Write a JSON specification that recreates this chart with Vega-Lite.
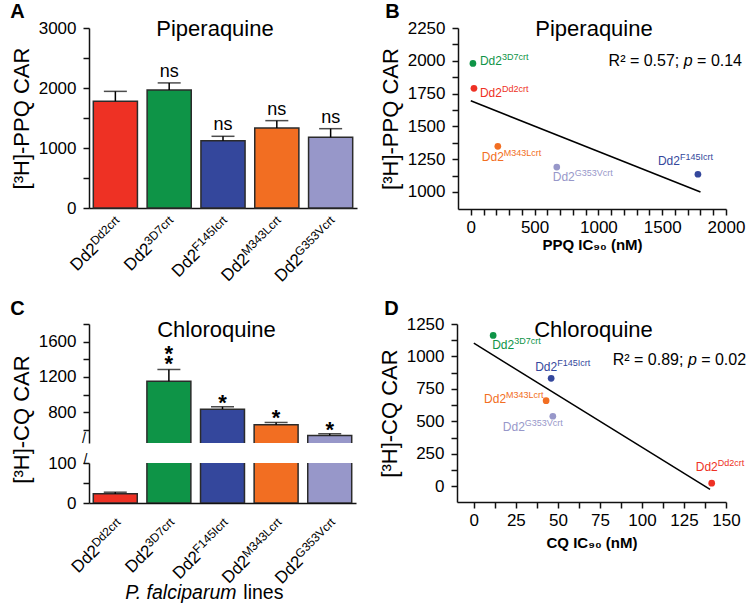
{
  "$schema": "https://vega.github.io/schema/vega-lite/v6.json",
  "padding": {"left": 10, "top": 2, "right": 0, "bottom": 0},
  "background": "white",
  "config": {
    "font": "Liberation Sans",
    "view": {"stroke": null},
    "axis": {"domainColor": "#111", "domainWidth": 1.5, "tickColor": "#111", "tickWidth": 1.5, "tickSize": 6, "labelFont": "Liberation Sans", "labelFontSize": 17, "labelColor": "#000", "labelPadding": 7, "titleFont": "Liberation Sans", "titleFontSize": 22, "titleFontWeight": "normal", "titleColor": "#000", "titlePadding": 5, "grid": false, "labelFlush": false, "labelOverlap": false},
    "title": {"font": "Liberation Sans", "fontSize": 20, "fontWeight": "bold", "anchor": "start", "frame": "bounds", "color": "#000", "offset": -4},
    "text": {"font": "Liberation Sans", "color": "#000"}
  },
  "datasets": {
    "ppqBars": [
      {"line": "Dd2crt", "car": 1778, "err": 1944, "sig": ""},
      {"line": "3D7crt", "car": 1965, "err": 2085, "sig": "ns"},
      {"line": "F145Icrt", "car": 1122, "err": 1195, "sig": "ns"},
      {"line": "M343Lcrt", "car": 1335, "err": 1456, "sig": "ns"},
      {"line": "G353Vcrt", "car": 1178, "err": 1322, "sig": "ns"}
    ],
    "cqBars": [
      {"line": "Dd2crt", "car": 23, "err": 27, "sig": ""},
      {"line": "3D7crt", "car": 1151, "err": 1284, "sig": "*\n*"},
      {"line": "F145Icrt", "car": 834, "err": 861, "sig": "*"},
      {"line": "M343Lcrt", "car": 657, "err": 683, "sig": "*"},
      {"line": "G353Vcrt", "car": 536, "err": 555, "sig": "*"}
    ],
    "ppqScatter": [
      {"line": "Dd2crt", "ic90": 25, "car": 1790},
      {"line": "3D7crt", "ic90": 17, "car": 1980},
      {"line": "F145Icrt", "ic90": 1780, "car": 1135},
      {"line": "M343Lcrt", "ic90": 212, "car": 1348},
      {"line": "G353Vcrt", "ic90": 674, "car": 1190}
    ],
    "cqScatter": [
      {"line": "Dd2crt", "ic90": 141.5, "car": 25},
      {"line": "3D7crt", "ic90": 11.5, "car": 1162},
      {"line": "F145Icrt", "ic90": 46, "car": 832},
      {"line": "M343Lcrt", "ic90": 43, "car": 660},
      {"line": "G353Vcrt", "ic90": 47, "car": 540}
    ],
    "ppqFit": [{"ic90": 0, "car": 1695}, {"ic90": 1800, "car": 1000}],
    "cqFit": [{"ic90": 0, "car": 1103}, {"ic90": 140.5, "car": -23}]
  },
  "spacing": 14,
  "vconcat": [
    {
      "spacing": 22,
      "hconcat": [
        {
          "title": {"text": "A"},
          "vconcat": [
            {
              "width": 268, "height": 180,
              "data": {"name": "ppqBars"},
              "layer": [
                {"mark": {"type": "bar", "stroke": "#2b2b2b", "strokeWidth": 1.5},
                 "encoding": {
                   "x": {"field": "line", "type": "nominal", "sort": null, "scale": {"paddingInner": 0.18, "paddingOuter": 0.08}, "axis": {"title": null, "labels": false, "ticks": false}},
                   "y": {"field": "car", "type": "quantitative", "scale": {"domain": [0, 3000], "nice": false}, "axis": {"title": "[³H]-PPQ CAR", "tickCount": 1000, "labelOverlap": false, "values": [0, 500, 1000, 1500, 2000, 2500, 3000], "labelExpr": "datum.value % 1000 == 0 ? datum.label : ''", "format": "d"}},
                   "color": {"field": "line", "type": "nominal", "scale": {"domain": ["Dd2crt", "3D7crt", "F145Icrt", "M343Lcrt", "G353Vcrt"], "range": ["#EE3124", "#0E9447", "#34479C", "#F26E22", "#9797C9"]}, "legend": null}
                 }},
                {"mark": {"type": "rule", "color": "#000", "strokeWidth": 1.5},
                 "encoding": {"x": {"field": "line", "type": "nominal", "sort": null}, "y": {"field": "car", "type": "quantitative"}, "y2": {"field": "err"}}},
                {"mark": {"type": "tick", "color": "#000", "size": 23, "thickness": 1.5},
                 "encoding": {"x": {"field": "line", "type": "nominal", "sort": null}, "y": {"field": "err", "type": "quantitative"}}},
                {"mark": {"type": "text", "fontSize": 18, "baseline": "alphabetic", "dy": -6},
                 "encoding": {"x": {"field": "line", "type": "nominal", "sort": null}, "y": {"field": "err", "type": "quantitative"}, "text": {"field": "sig"}}},
                {"mark": {"type": "text", "text": "Dd2", "fontSize": 17, "angle": 315, "align": "right", "baseline": "middle", "dx": {"expr": "-5.7 - (datum.line=='Dd2crt'?35.3:datum.line=='3D7crt'?35.3:datum.line=='F145Icrt'?44:datum.line=='M343Lcrt'?50:50.7)"}, "dy": 13},
                 "encoding": {"x": {"field": "line", "type": "nominal", "sort": null}, "y": {"datum": 0}}},
                {"mark": {"type": "text", "fontSize": 12, "angle": 315, "align": "right", "baseline": "middle", "dx": -5.7, "dy": 8.5},
                 "encoding": {"x": {"field": "line", "type": "nominal", "sort": null}, "y": {"datum": 0}, "text": {"field": "line"}}},
                {"data": {"values": [{"t": "Piperaquine"}]},
                 "mark": {"type": "text", "fontSize": 22, "baseline": "alphabetic", "dx": -8, "dy": 8},
                 "encoding": {"y": {"datum": 3000}, "text": {"field": "t"}}}
              ]
            }
          ]
        },
        {
          "title": {"text": "B", "dx": 6},
          "vconcat": [
            {
              "width": 268, "height": 181,
              "layer": [
                {"data": {"name": "ppqFit"},
                 "mark": {"type": "line", "color": "#000", "strokeWidth": 1.5},
                 "encoding": {
                   "x": {"field": "ic90", "type": "quantitative", "scale": {"domain": [-100, 2000], "nice": false, "zero": false}, "axis": {"title": "PPQ IC₉₀ (nM)", "tickCount": 1000, "labelOverlap": false, "titleFontSize": 15, "titleFontWeight": "bold", "titlePadding": 2, "labelPadding": 4, "values": [0, 100, 200, 300, 400, 500, 600, 700, 800, 900, 1000, 1100, 1200, 1300, 1400, 1500, 1600, 1700, 1800, 1900, 2000], "labelExpr": "datum.value % 500 == 0 ? datum.label : ''", "format": "d"}},
                   "y": {"field": "car", "type": "quantitative", "scale": {"domain": [870, 2250], "nice": false, "zero": false}, "axis": {"title": "[³H]-PPQ CAR", "tickCount": 1000, "labelOverlap": false, "values": [1000, 1125, 1250, 1375, 1500, 1625, 1750, 1875, 2000, 2125, 2250], "labelExpr": "datum.value % 250 == 0 ? datum.label : ''", "format": "d"}}
                 }},
                {"data": {"name": "ppqScatter"},
                 "layer": [
                   {"mark": {"type": "circle", "size": 45, "opacity": 1},
                    "encoding": {
                      "x": {"field": "ic90", "type": "quantitative"},
                      "y": {"field": "car", "type": "quantitative"},
                      "color": {"field": "line", "type": "nominal", "scale": {"domain": ["Dd2crt", "3D7crt", "F145Icrt", "M343Lcrt", "G353Vcrt"], "range": ["#EE3124", "#0E9447", "#34479C", "#F26E22", "#9797C9"]}, "legend": null}
                    }},
                   {"mark": {"type": "text", "text": "Dd2", "fontSize": 12, "align": "left", "baseline": "alphabetic",
                             "dx": {"expr": "datum.line=='3D7crt'?7:datum.line=='Dd2crt'?6:datum.line=='M343Lcrt'?-16:datum.line=='G353Vcrt'?-4:-40"},
                             "dy": {"expr": "datum.line=='3D7crt'?2:datum.line=='Dd2crt'?9:datum.line=='M343Lcrt'?15:datum.line=='G353Vcrt'?14:-9"}},
                    "encoding": {
                      "x": {"field": "ic90", "type": "quantitative"},
                      "y": {"field": "car", "type": "quantitative"},
                      "color": {"field": "line", "type": "nominal", "legend": null}
                    }},
                   {"mark": {"type": "text", "fontSize": 9, "align": "left", "baseline": "alphabetic",
                             "dx": {"expr": "22+(datum.line=='3D7crt'?7:datum.line=='Dd2crt'?6:datum.line=='M343Lcrt'?-16:datum.line=='G353Vcrt'?-4:-40)"},
                             "dy": {"expr": "(datum.line=='3D7crt'?2:datum.line=='Dd2crt'?9:datum.line=='M343Lcrt'?15:datum.line=='G353Vcrt'?14:-9)-5"}},
                    "encoding": {
                      "x": {"field": "ic90", "type": "quantitative"},
                      "y": {"field": "car", "type": "quantitative"},
                      "text": {"field": "line"},
                      "color": {"field": "line", "type": "nominal", "legend": null}
                    }}
                 ]},
                {"data": {"values": [{"a": "R² = 0.57;", "b": "p", "c": "= 0.14"}]},
                 "layer": [
                   {"mark": {"type": "text", "fontSize": 16, "align": "left", "baseline": "middle"},
                    "encoding": {"x": {"datum": 1080}, "y": {"datum": 2000}, "text": {"field": "a"}}},
                   {"mark": {"type": "text", "fontSize": 16, "fontStyle": "italic", "align": "left", "baseline": "middle", "dx": 75.2},
                    "encoding": {"x": {"datum": 1080}, "y": {"datum": 2000}, "text": {"field": "b"}}},
                   {"mark": {"type": "text", "fontSize": 16, "align": "left", "baseline": "middle", "dx": 88.5},
                    "encoding": {"x": {"datum": 1080}, "y": {"datum": 2000}, "text": {"field": "c"}}}
                 ]},
                {"data": {"values": [{"t": "Piperaquine"}]},
                 "mark": {"type": "text", "fontSize": 22, "baseline": "alphabetic", "dx": 2, "dy": 8},
                 "encoding": {"y": {"datum": 2250}, "text": {"field": "t"}}}
              ]
            }
          ]
        }
      ]
    },
    {
      "spacing": 22,
      "hconcat": [
        {
          "title": {"text": "C"},
          "bounds": "flush",
          "spacing": 20,
          "vconcat": [
            {
              "width": 267, "height": 119,
              "data": {"name": "cqBars"},
              "layer": [
                {"mark": {"type": "bar", "stroke": "#2b2b2b", "strokeWidth": 1.5, "clip": true},
                 "encoding": {
                   "x": {"field": "line", "type": "nominal", "sort": null, "scale": {"paddingInner": 0.18, "paddingOuter": 0.08}, "axis": null},
                   "y": {"field": "car", "type": "quantitative", "scale": {"domain": [450, 1800], "nice": false, "zero": false}, "axis": {"title": "[³H]-CQ CAR", "tickCount": 1000, "labelOverlap": false, "titleY": 95, "values": [600, 800, 1000, 1200, 1400, 1600, 1800], "labelExpr": "datum.value % 400 == 0 ? datum.label : ''", "format": "d"}},
                   "y2": {"datum": 0},
                   "color": {"field": "line", "type": "nominal", "scale": {"domain": ["Dd2crt", "3D7crt", "F145Icrt", "M343Lcrt", "G353Vcrt"], "range": ["#EE3124", "#0E9447", "#34479C", "#F26E22", "#9797C9"]}, "legend": null}
                 }},
                {"mark": {"type": "rule", "color": "#000", "strokeWidth": 1.5, "clip": true},
                 "encoding": {"x": {"field": "line", "type": "nominal", "sort": null}, "y": {"field": "car", "type": "quantitative"}, "y2": {"field": "err"}}},
                {"mark": {"type": "tick", "color": "#000", "size": 23, "thickness": 1.5, "clip": true},
                 "encoding": {"x": {"field": "line", "type": "nominal", "sort": null}, "y": {"field": "err", "type": "quantitative"}}},
                {"mark": {"type": "text", "fontSize": 22, "fontWeight": "bold", "baseline": "bottom", "lineBreak": "\n", "lineHeight": 10, "dy": {"expr": "length(datum.sig) > 1 ? -3 : 8"}},
                 "encoding": {"x": {"field": "line", "type": "nominal", "sort": null}, "y": {"field": "err", "type": "quantitative"}, "text": {"field": "sig"}}},
                {"data": {"values": [{"t": "/"}]},
                 "mark": {"type": "text", "fontSize": 14, "baseline": "middle", "align": "center", "dx": -9.3, "dy": -4},
                 "encoding": {"x": {"datum": "Dd2crt", "bandPosition": 0}, "y": {"datum": 450}, "text": {"field": "t"}}},
                {"data": {"values": [{"t": "Chloroquine"}]},
                 "mark": {"type": "text", "fontSize": 22, "baseline": "alphabetic", "dx": -6, "dy": 13},
                 "encoding": {"y": {"datum": 1800}, "text": {"field": "t"}}}
              ]
            },
            {
              "width": 267, "height": 40,
              "data": {"name": "cqBars"},
              "layer": [
                {"mark": {"type": "bar", "stroke": "#2b2b2b", "strokeWidth": 1.5, "clip": true},
                 "encoding": {
                   "x": {"field": "line", "type": "nominal", "sort": null, "scale": {"paddingInner": 0.18, "paddingOuter": 0.08}, "axis": {"title": null, "labels": false, "ticks": false}},
                   "y": {"field": "car", "type": "quantitative", "scale": {"domain": [0, 100], "nice": false}, "axis": {"title": null, "tickCount": 1000, "labelOverlap": false, "values": [0, 50, 100], "labelExpr": "datum.value % 100 == 0 ? datum.label : ''", "format": "d"}},
                   "y2": {"datum": 0},
                   "color": {"field": "line", "type": "nominal", "scale": {"domain": ["Dd2crt", "3D7crt", "F145Icrt", "M343Lcrt", "G353Vcrt"], "range": ["#EE3124", "#0E9447", "#34479C", "#F26E22", "#9797C9"]}, "legend": null}
                 }},
                {"mark": {"type": "rule", "color": "#000", "strokeWidth": 1.5, "clip": true},
                 "encoding": {"x": {"field": "line", "type": "nominal", "sort": null}, "y": {"field": "car", "type": "quantitative"}, "y2": {"field": "err"}}},
                {"mark": {"type": "tick", "color": "#000", "size": 23, "thickness": 1.5, "clip": true},
                 "encoding": {"x": {"field": "line", "type": "nominal", "sort": null}, "y": {"field": "err", "type": "quantitative"}}},
                {"data": {"values": [{"t": "/"}]},
                 "mark": {"type": "text", "fontSize": 14, "baseline": "middle", "align": "center", "dx": -7.8, "dy": -3},
                 "encoding": {"x": {"datum": "Dd2crt", "bandPosition": 0}, "y": {"datum": 100}, "text": {"field": "t"}}},
                {"mark": {"type": "text", "text": "Dd2", "fontSize": 17, "angle": 315, "align": "right", "baseline": "middle", "dx": {"expr": "-9.7 - (datum.line=='Dd2crt'?35.3:datum.line=='3D7crt'?35.3:datum.line=='F145Icrt'?44:datum.line=='M343Lcrt'?50:50.7)"}, "dy": 18.9},
                 "encoding": {"x": {"field": "line", "type": "nominal", "sort": null}, "y": {"datum": 0}}},
                {"mark": {"type": "text", "fontSize": 12, "angle": 315, "align": "right", "baseline": "middle", "dx": -9.7, "dy": 14.4},
                 "encoding": {"x": {"field": "line", "type": "nominal", "sort": null}, "y": {"datum": 0}, "text": {"field": "line"}}},
                {"data": {"values": [{"t": "P. falciparum"}]},
                 "mark": {"type": "text", "fontSize": 19.5, "fontStyle": "italic", "align": "right", "baseline": "alphabetic", "dx": 14, "dy": 96},
                 "encoding": {"y": {"datum": 0}, "text": {"field": "t"}}},
                {"data": {"values": [{"t": "lines"}]},
                 "mark": {"type": "text", "fontSize": 19.5, "align": "left", "baseline": "alphabetic", "dx": 20.8, "dy": 96},
                 "encoding": {"y": {"datum": 0}, "text": {"field": "t"}}}
              ]
            }
          ]
        },
        {
          "title": {"text": "D", "dx": 6},
          "vconcat": [
            {
              "width": 269, "height": 178,
              "layer": [
                {"data": {"name": "cqFit"},
                 "mark": {"type": "line", "color": "#000", "strokeWidth": 1.5},
                 "encoding": {
                   "x": {"field": "ic90", "type": "quantitative", "scale": {"domain": [-10, 150], "nice": false, "zero": false}, "axis": {"title": "CQ IC₉₀ (nM)", "tickCount": 1000, "labelOverlap": false, "titleFontSize": 15, "titleFontWeight": "bold", "titlePadding": 7, "labelPadding": 4, "values": [0, 12.5, 25, 37.5, 50, 62.5, 75, 87.5, 100, 112.5, 125, 137.5, 150], "labelExpr": "datum.value % 25 == 0 ? datum.label : ''", "format": "d"}},
                   "y": {"field": "car", "type": "quantitative", "scale": {"domain": [-120, 1250], "nice": false, "zero": false}, "axis": {"title": "[³H]-CQ CAR", "tickCount": 1000, "labelOverlap": false, "values": [0, 125, 250, 375, 500, 625, 750, 875, 1000, 1125, 1250], "labelExpr": "datum.value % 250 == 0 ? datum.label : ''", "format": "d"}}
                 }},
                {"data": {"name": "cqScatter"},
                 "layer": [
                   {"mark": {"type": "circle", "size": 45, "opacity": 1},
                    "encoding": {
                      "x": {"field": "ic90", "type": "quantitative"},
                      "y": {"field": "car", "type": "quantitative"},
                      "color": {"field": "line", "type": "nominal", "scale": {"domain": ["Dd2crt", "3D7crt", "F145Icrt", "M343Lcrt", "G353Vcrt"], "range": ["#EE3124", "#0E9447", "#34479C", "#F26E22", "#9797C9"]}, "legend": null}
                    }},
                   {"mark": {"type": "text", "text": "Dd2", "fontSize": 12, "align": "left", "baseline": "alphabetic",
                             "dx": {"expr": "datum.line=='3D7crt'?-1:datum.line=='F145Icrt'?-16:datum.line=='M343Lcrt'?-62:datum.line=='G353Vcrt'?-50:-16"},
                             "dy": {"expr": "datum.line=='3D7crt'?14:datum.line=='F145Icrt'?-7:datum.line=='M343Lcrt'?2:datum.line=='G353Vcrt'?15:-12"}},
                    "encoding": {
                      "x": {"field": "ic90", "type": "quantitative"},
                      "y": {"field": "car", "type": "quantitative"},
                      "color": {"field": "line", "type": "nominal", "legend": null}
                    }},
                   {"mark": {"type": "text", "fontSize": 9, "align": "left", "baseline": "alphabetic",
                             "dx": {"expr": "22+(datum.line=='3D7crt'?-1:datum.line=='F145Icrt'?-16:datum.line=='M343Lcrt'?-62:datum.line=='G353Vcrt'?-50:-16)"},
                             "dy": {"expr": "(datum.line=='3D7crt'?14:datum.line=='F145Icrt'?-7:datum.line=='M343Lcrt'?2:datum.line=='G353Vcrt'?15:-12)-5"}},
                    "encoding": {
                      "x": {"field": "ic90", "type": "quantitative"},
                      "y": {"field": "car", "type": "quantitative"},
                      "text": {"field": "line"},
                      "color": {"field": "line", "type": "nominal", "legend": null}
                    }}
                 ]},
                {"data": {"values": [{"a": "R² = 0.89;", "b": "p", "c": "= 0.02"}]},
                 "layer": [
                   {"mark": {"type": "text", "fontSize": 16, "align": "left", "baseline": "middle"},
                    "encoding": {"x": {"datum": 82.6}, "y": {"datum": 975}, "text": {"field": "a"}}},
                   {"mark": {"type": "text", "fontSize": 16, "fontStyle": "italic", "align": "left", "baseline": "middle", "dx": 75.2},
                    "encoding": {"x": {"datum": 82.6}, "y": {"datum": 975}, "text": {"field": "b"}}},
                   {"mark": {"type": "text", "fontSize": 16, "align": "left", "baseline": "middle", "dx": 88.5},
                    "encoding": {"x": {"datum": 82.6}, "y": {"datum": 975}, "text": {"field": "c"}}}
                 ]},
                {"data": {"values": [{"t": "Chloroquine"}]},
                 "mark": {"type": "text", "fontSize": 22, "baseline": "alphabetic", "dx": 2, "dy": 12.7},
                 "encoding": {"y": {"datum": 1250}, "text": {"field": "t"}}}
              ]
            }
          ]
        }
      ]
    }
  ]
}
